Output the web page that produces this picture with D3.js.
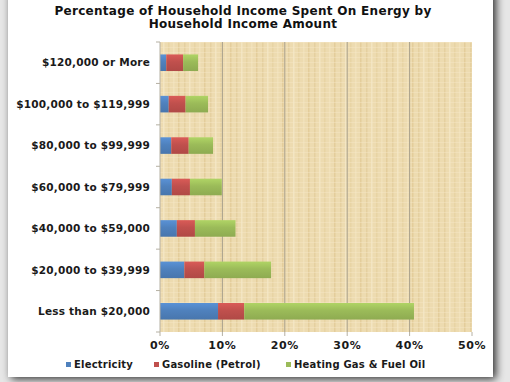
<!DOCTYPE html>
<html>
<head>
<meta charset="utf-8">
<script src="https://cdn.jsdelivr.net/npm/d3@7"></script>
<style>
  body { margin: 0; background: #fff; }
  svg { display: block; font-family: "DejaVu Sans", Verdana, sans-serif; }
</style>
</head>
<body>
<script>
// data (percent of income)
var categories = ['Less than $20,000', '$20,000 to $39,999', '$40,000 to $59,000',
  '$60,000 to $79,999', '$80,000 to $99,999', '$100,000 to $119,999', '$120,000 or More'];
var seriesNames = ['Electricity', 'Gasoline (Petrol)', 'Heating Gas & Fuel Oil'];
var electricity = [9.3, 3.9, 2.7, 1.9, 1.8, 1.4, 1.0];
var gasoline = [4.2, 3.2, 2.9, 2.9, 2.8, 2.7, 2.7];
var heating = [27.2, 10.7, 6.5, 5.1, 3.9, 3.6, 2.4];
var xTicks = [0, 10, 20, 30, 40, 50];
var colors = ['#4f81bd', '#c0504d', '#9bbb59'];

var width = 510, height = 382;
var plotTop = 42, plotBottom = 332;

var svg = d3.select('body').append('svg').attr('width', width).attr('height', height);
var defs = svg.append('defs');

// card shadow
var shadow = defs.append('filter').attr('id', 'shadow')
  .attr('x', '-10%').attr('y', '-10%').attr('width', '120%').attr('height', '120%');
shadow.append('feGaussianBlur').attr('in', 'SourceAlpha').attr('stdDeviation', 4);
shadow.append('feOffset').attr('dx', 3).attr('dy', 2).attr('result', 'b');
shadow.append('feComponentTransfer').append('feFuncA').attr('type', 'linear').attr('slope', 0.8);
var merge = shadow.append('feMerge');
merge.append('feMergeNode');
merge.append('feMergeNode').attr('in', 'SourceGraphic');

svg.append('rect').attr('x', 0).attr('y', 0).attr('width', width).attr('height', height).attr('fill', '#e6e6e6');
svg.append('rect').attr('x', 8).attr('y', -10).attr('width', 485).attr('height', 387)
  .attr('fill', '#fff').attr('filter', 'url(#shadow)');

// papyrus-ish texture
var pat = defs.append('pattern').attr('id', 'papyrus').attr('patternUnits', 'userSpaceOnUse')
  .attr('width', 26).attr('height', 5);
pat.append('rect').attr('width', 26).attr('height', 5).attr('fill', '#eddbb0');
[[2, '#e5d0a0'], [7, '#f3e5c2'], [12, '#e8d4a4'], [17, '#f1e1ba'], [22, '#e4cd9b']].forEach(function (s) {
  pat.append('rect').attr('x', s[0]).attr('y', 0).attr('width', 1.5).attr('height', 5).attr('fill', s[1]);
});
pat.append('rect').attr('x', 0).attr('y', 2).attr('width', 26).attr('height', 0.6).attr('fill', '#f5e8c8').attr('opacity', 0.7);

// bar gradients
colors.forEach(function (c, i) {
  var g = defs.append('linearGradient').attr('id', 'grad' + i).attr('x1', 0).attr('y1', 0).attr('x2', 0).attr('y2', 1);
  g.append('stop').attr('offset', '0%').attr('stop-color', d3.color(c).brighter(0.35));
  g.append('stop').attr('offset', '45%').attr('stop-color', c);
  g.append('stop').attr('offset', '100%').attr('stop-color', d3.color(c).darker(0.25));
});

var x = d3.scaleLinear().domain([0, 50]).range([160, 472]);
var y = d3.scaleBand().domain(categories.slice().reverse()).range([plotTop, plotBottom]).paddingInner(0.6).paddingOuter(0.3);
var yb = d3.scaleBand().domain(categories.slice().reverse()).range([plotTop, plotBottom]);

svg.append('rect').attr('x', x(0)).attr('y', plotTop).attr('width', x(50) - x(0)).attr('height', plotBottom - plotTop)
  .attr('fill', 'url(#papyrus)');

// gridlines
svg.append('g').selectAll('line').data(xTicks.slice(1, -1)).enter().append('line')
  .attr('x1', function (d) { return x(d); }).attr('x2', function (d) { return x(d); })
  .attr('y1', plotTop).attr('y2', plotBottom).attr('stroke', '#a8a08c').attr('stroke-width', 1);

// stacked bars
var rows = categories.map(function (c, i) {
  return {cat: c, vals: [electricity[i], gasoline[i], heating[i]]};
});
var stack = d3.stack().keys([0, 1, 2]).value(function (d, k) { return d.vals[k]; });
var layers = stack(rows);

svg.append('g').selectAll('g').data(layers).enter().append('g')
  .attr('fill', function (d, i) { return 'url(#grad' + i + ')'; })
  .selectAll('rect').data(function (d) { return d; }).enter().append('rect')
  .attr('x', function (d) { return x(d[0]); })
  .attr('width', function (d) { return x(d[1]) - x(d[0]); })
  .attr('y', function (d) { return y(d.data.cat); })
  .attr('height', y.bandwidth());

// y axis with ticks between categories
var yAxis = svg.append('g').attr('transform', 'translate(' + x(0) + ',0)');
yAxis.append('line').attr('x1', 0).attr('x2', 0).attr('y1', plotTop).attr('y2', plotBottom).attr('stroke', '#b5b0a3');
yAxis.selectAll('line.tk').data(yb.domain().concat(['end'])).enter().append('line').attr('class', 'tk')
  .attr('x1', -4).attr('x2', 0)
  .attr('y1', function (d, i) { return plotTop + i * yb.step(); })
  .attr('y2', function (d, i) { return plotTop + i * yb.step(); })
  .attr('stroke', '#b5b0a3');
yAxis.selectAll('text').data(categories).enter().append('text')
  .attr('x', -10).attr('y', function (d) { return yb(d) + yb.bandwidth() / 2; })
  .attr('dy', '0.35em').attr('text-anchor', 'end')
  .attr('font-size', 10.5).attr('letter-spacing', 0.2).attr('font-weight', 'bold').attr('fill', '#1a1a1a')
  .text(function (d) { return d; });

// x axis
var xAxis = svg.append('g').attr('transform', 'translate(0,' + plotBottom + ')');
xAxis.selectAll('line').data(xTicks).enter().append('line')
  .attr('x1', function (d) { return x(d); }).attr('x2', function (d) { return x(d); })
  .attr('y1', 0).attr('y2', 4).attr('stroke', '#b5b0a3');
xAxis.selectAll('text').data(xTicks).enter().append('text')
  .attr('x', function (d) { return x(d); }).attr('y', 17)
  .attr('text-anchor', 'middle').attr('font-size', 11).attr('letter-spacing', 0.6)
  .attr('font-weight', 'bold').attr('fill', '#1a1a1a')
  .text(function (d) { return d + '%'; });

// title
var title = svg.append('text').attr('text-anchor', 'middle')
  .attr('font-size', 12).attr('letter-spacing', 0.3).attr('font-weight', 'bold').attr('fill', '#111');
title.append('tspan').attr('x', 243).attr('y', 15).text('Percentage of Household Income Spent On Energy by');
title.append('tspan').attr('x', 243).attr('y', 28).text('Household Income Amount');

// legend
var legendX = [66, 154, 286];
var legend = svg.append('g').selectAll('g').data(seriesNames).enter().append('g')
  .attr('transform', function (d, i) { return 'translate(' + legendX[i] + ',368)'; });
legend.append('rect').attr('x', 0).attr('y', -6).attr('width', 5).attr('height', 5)
  .attr('fill', function (d, i) { return colors[i]; });
legend.append('text').attr('x', 8).attr('y', 0).attr('font-size', 10).attr('letter-spacing', 0.2)
  .attr('font-weight', 'bold').attr('fill', '#1a1a1a').text(function (d) { return d; });
</script>
</body>
</html>
